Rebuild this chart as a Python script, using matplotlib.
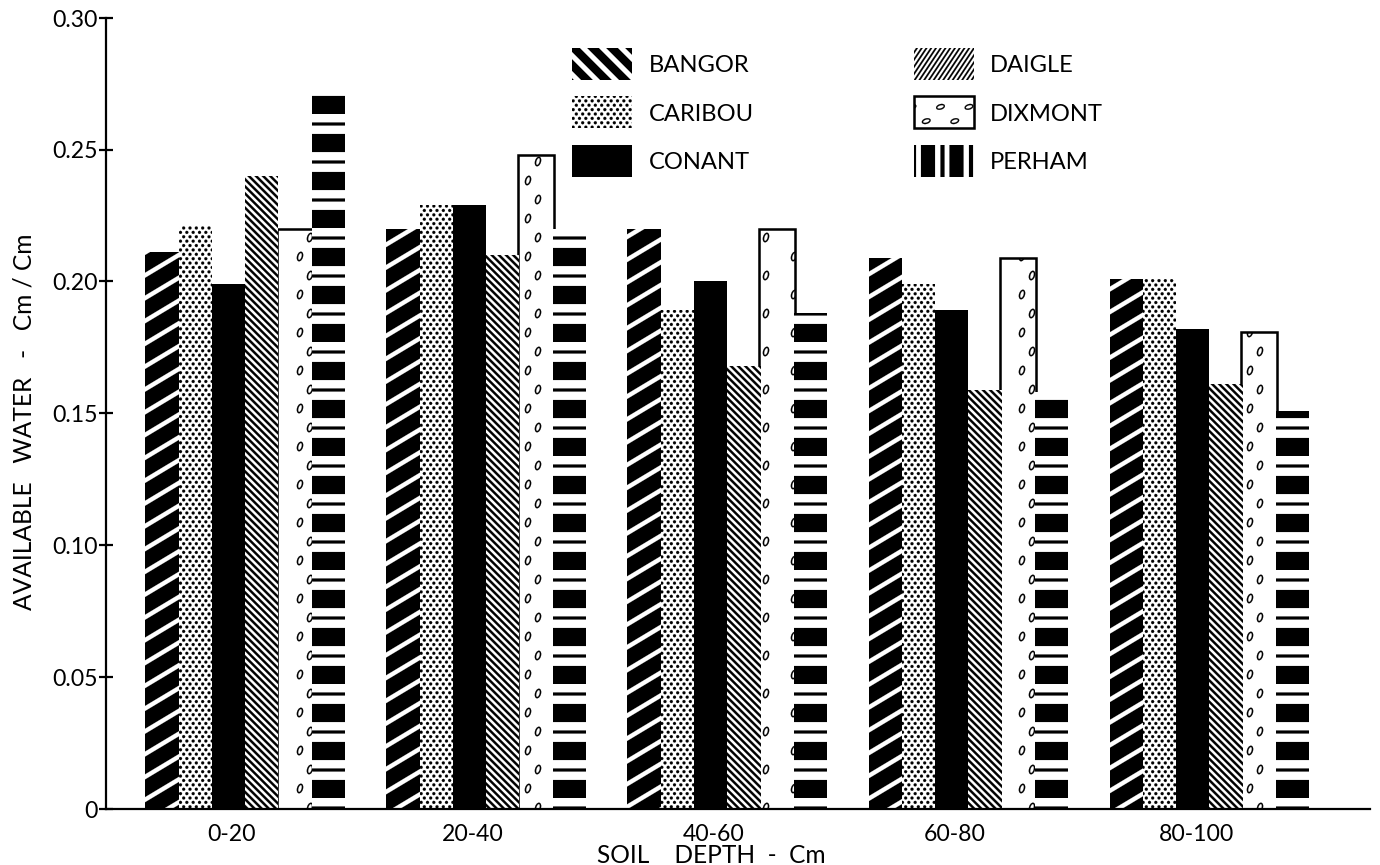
import numpy as np
import matplotlib
matplotlib.use("Agg")
import matplotlib.pyplot as plt
import matplotlib.hatch as mhatch
from matplotlib.path import Path
from matplotlib.patches import Patch

# Agg renders one hatch tile as DPI x DPI pixels, so the patterns below
# are laid out in pixel sizes relative to that tile.
DPI = 114

# available water (cm/cm) by soil depth
depths = ["0-20", "20-40", "40-60", "60-80", "80-100"]
bangor = [0.211, 0.220, 0.220, 0.209, 0.201]
caribou = [0.221, 0.229, 0.189, 0.199, 0.201]
conant = [0.199, 0.229, 0.200, 0.189, 0.182]
daigle = [0.240, 0.210, 0.168, 0.159, 0.161]
dixmont = [0.220, 0.248, 0.220, 0.209, 0.181]
perham = [0.271, 0.220, 0.188, 0.158, 0.151]

soils = ["BANGOR", "CARIBOU", "CONANT", "DAIGLE", "DIXMONT", "PERHAM"]
yticks = [0, 0.05, 0.10, 0.15, 0.20, 0.25, 0.30]
ytick_labels = ["0", "0.05", "0.10", "0.15", "0.20", "0.25", "0.30"]


# ---------- custom fill patterns ----------
def px(v):
    return v / DPI


def polygon(points):
    points = list(points)
    verts = points + [points[0]]
    codes = [Path.MOVETO] + [Path.LINETO] * (len(points) - 1) + [Path.CLOSEPOLY]
    return verts, codes


def stripes(n, slope, thick, x0=-0.05, x1=1.05):
    """n parallel bands per tile, y = c + slope * x, thick = vertical thickness"""
    parts = []
    lo = int(np.floor(-abs(slope) * n)) - 2
    hi = int(np.ceil((1 + abs(slope)) * n)) + 2
    for i in range(lo, hi):
        c = i / n
        parts.append(polygon([(x0, c + slope * x0), (x1, c + slope * x1),
                              (x1, c + slope * x1 + thick), (x0, c + slope * x0 + thick)]))
    return parts


def ellipse(cx, cy, a, b, angle=0.0, ring=None, n=20):
    t = np.linspace(0, 2 * np.pi, n, endpoint=False)
    ca, sa = np.cos(angle), np.sin(angle)

    def pts(aa, bb):
        ex, ey = aa * np.cos(t), bb * np.sin(t)
        return list(zip(cx + ex * ca - ey * sa, cy + ex * sa + ey * ca))

    verts, codes = polygon(pts(a, b))
    if ring:
        v2, c2 = polygon(pts(a - ring, b - ring)[::-1])
        verts, codes = verts + v2, codes + c2
    return verts, codes


def repeat(centers, shape):
    """place a shape at each centre, with wrapped copies across tile edges"""
    parts = []
    for cx, cy in centers:
        cx, cy = cx % 1.0, cy % 1.0
        for dx in (-1, 0, 1):
            for dy in (-1, 0, 1):
                x, y = cx + dx, cy + dy
                if -0.08 < x < 1.08 and -0.08 < y < 1.08:
                    parts.append(shape(x, y))
    return parts


def bands(n, pieces, vertical=False):
    """n repeats per tile of (start_px, height_px) bands"""
    parts = []
    for k in range(n):
        for start, size in pieces:
            a, b = k / n + px(start), k / n + px(start + size)
            if vertical:
                parts.append(polygon([(a, -0.05), (b, -0.05), (b, 1.05), (a, 1.05)]))
            else:
                parts.append(polygon([(-0.05, a), (1.05, a), (1.05, b), (-0.05, b)]))
    return parts


dot_centers = [((c + 0.5 * (r % 2)) / 18, r / 26) for r in range(26) for c in range(18)]
oval_centers = [(k / 3 + px(34) + (px(10) if r % 2 else 0), (r + 0.5) / 6)
                for r in range(6) for k in range(3)]
icon_oval_centers = [((c + 0.5 * (r % 2)) / 4, (r + 0.5) / 8)
                     for r in range(8) for c in range(4)]

TILES = {
    "/": stripes(5, 0.6, px(5)),                       # bangor bars
    "x": stripes(6, -1.0, px(7)),                      # bangor key
    ".": repeat(dot_centers, lambda x, y: ellipse(x, y, px(1.6), px(1.6), n=8)),
    "\\": stripes(16, -1.0, px(3.3)),                  # daigle bars
    "X": stripes(16, 1.5, px(2.9)),                    # daigle key
    "o": repeat(oval_centers, lambda x, y: ellipse(x, y, px(3.0), px(5.0), -0.3, px(1.4))),
    "O": repeat(icon_oval_centers, lambda x, y: ellipse(x, y, px(4.6), px(2.8), 0.3, px(1.3))),
    "-": bands(3, [(0, 18), (26.5, 3)]),               # perham bars
    "|": bands(4, [(0, 4), (9, 14)], vertical=True),   # perham key
}


class TileHatch(mhatch.HatchPatternBase):
    def __init__(self, hatch, density):
        self.parts = [p for ch in hatch for p in TILES.get(ch, [])]
        self.num_vertices = sum(len(v) for v, c in self.parts)

    def set_vertices_and_codes(self, vertices, codes):
        i = 0
        for v, c in self.parts:
            n = len(v)
            vertices[i:i + n] = v
            codes[i:i + n] = c
            i += n


mhatch._hatch_types[:] = [TileHatch]
plt.rcParams['hatch.linewidth'] = 0.1
plt.rcParams['font.family'] = 'Lato'

# ---------- figure ----------
fig = plt.figure(figsize=(1380.4 / DPI, 865.4 / DPI), dpi=DPI)
ax = fig.add_axes([106 / 1380, 1 - 809 / 865, 1264 / 1380, 791 / 865])

x = np.arange(len(depths))
w = 0.138
series = [bangor, caribou, conant, daigle, dixmont, perham]
bar_styles = [
    dict(facecolor="black", edgecolor="white", hatch="/", linewidth=0),
    dict(facecolor="white", edgecolor="black", hatch=".", linewidth=0),
    dict(facecolor="black", edgecolor="black", linewidth=0),
    dict(facecolor="white", edgecolor="black", hatch="\\", linewidth=0),
    dict(facecolor="white", edgecolor="black", hatch="o", linewidth=1.6, zorder=1.5),
    dict(facecolor="white", edgecolor="black", hatch="-", linewidth=0),
]
key_styles = [
    dict(facecolor="black", edgecolor="white", hatch="x", linewidth=0),
    dict(facecolor="white", edgecolor="black", hatch=".", linewidth=0),
    dict(facecolor="black", edgecolor="black", linewidth=0),
    dict(facecolor="white", edgecolor="black", hatch="X", linewidth=0),
    dict(facecolor="white", edgecolor="black", hatch="O", linewidth=1.6),
    dict(facecolor="white", edgecolor="black", hatch="|", linewidth=0),
]

for i, (vals, style) in enumerate(zip(series, bar_styles)):
    style = dict(style)
    zorder = style.pop("zorder", 2)
    # the outlined bar is a touch wider so its sides tuck under its neighbours
    width = w * 1.08 if zorder < 2 else w
    ax.bar(x + (i - 2.5) * w, vals, width, zorder=zorder, **style)

ax.set_xlim(-0.577, 4.668)
ax.set_ylim(0, 0.30)
ax.set_yticks(yticks, ytick_labels)
ax.set_xticks(x - 0.055, depths)

for side in ["top", "right"]:
    ax.spines[side].set_visible(False)
for side in ["left", "bottom"]:
    ax.spines[side].set_linewidth(1.4)

ax.tick_params(axis="y", direction="inout", length=9, width=1.4, pad=1,
               labelsize=14.5)
ax.tick_params(axis="x", length=0, pad=9, labelsize=14.5)

ax.set_ylabel("AVAILABLE   WATER   -   Cm / Cm", fontsize=15.5)
ax.yaxis.set_label_coords(-0.056, 0.49)
ax.set_xlabel("SOIL    DEPTH  -  Cm", fontsize=15.5)
ax.xaxis.set_label_coords(0.479, -0.044)

handles = [Patch(label=name, **st) for name, st in zip(soils, key_styles)]
ax.legend(handles=handles, ncol=2, frameon=False, fontsize=15,
          loc="upper left", bbox_to_anchor=(572 / 1380, 1 - 48 / 865),
          bbox_transform=fig.transFigure, borderpad=0, borderaxespad=0,
          handlelength=2.53, handleheight=1.7, handletextpad=0.68,
          labelspacing=0.705, columnspacing=6.75)

fig.savefig("out.png", dpi=DPI)
